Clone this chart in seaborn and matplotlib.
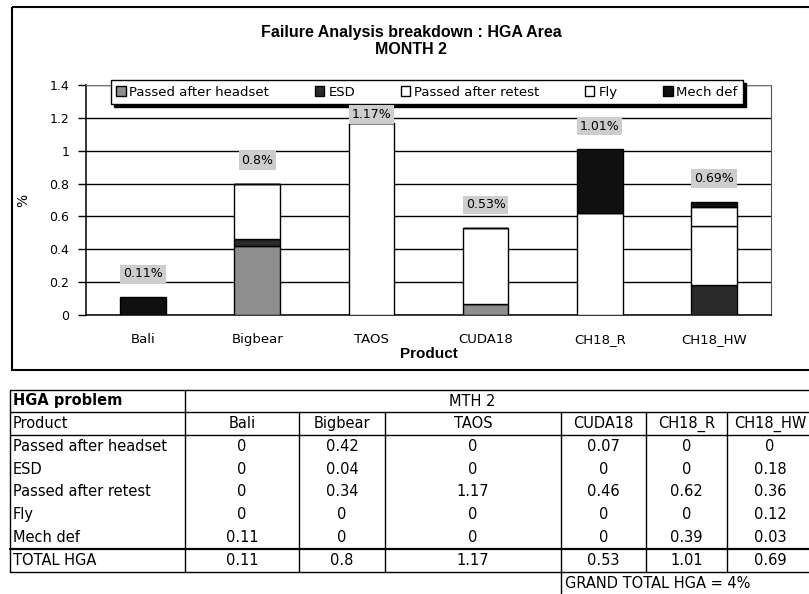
import matplotlib
matplotlib.use("Agg")
import matplotlib.pyplot as plt
import seaborn as sns
import numpy as np
from matplotlib.patches import Rectangle

# HGA failure breakdown, month 2 (values in %)
products = ["Bali", "Bigbear", "TAOS", "CUDA18", "CH18_R", "CH18_HW"]
passed_after_headset = [0, 0.42, 0, 0.07, 0, 0]
esd = [0, 0.04, 0, 0, 0, 0.18]
passed_after_retest = [0, 0.34, 1.17, 0.46, 0.62, 0.36]
fly = [0, 0, 0, 0, 0, 0.12]
mech_def = [0.11, 0, 0, 0, 0.39, 0.03]
series_names = ["Passed after headset", "ESD", "Passed after retest", "Fly", "Mech def"]
y_ticks = [0, 0.2, 0.4, 0.6, 0.8, 1, 1.2, 1.4]

title_lines = ["Failure Analysis breakdown : HGA Area", "MONTH 2"]
table_title = "HGA problem"
table_month = "MTH 2"

sns.set_theme(style="white")
plt.rcParams["font.family"] = ["DejaVu Sans"]
for key in ["text.color", "axes.labelcolor", "xtick.color", "ytick.color"]:
    plt.rcParams[key] = "black"
narrow = ["Liberation Sans Narrow", "Liberation Sans", "DejaVu Sans"]

W, H = 809, 594
fig = plt.figure(figsize=(W / 100, H / 100), dpi=100)
fig.patch.set_facecolor("white")

# full-figure pixel canvas for the frame and the table
canvas = fig.add_axes([0, 0, 1, 1], zorder=0)
canvas.set_xlim(0, W)
canvas.set_ylim(H, 0)
canvas.axis("off")

# chart frame
canvas.add_patch(Rectangle((12, 7), 840, 363, fill=False, lw=1.5, ec="black"))

# chart plot area
L, R, TOP, BOT = 86, 771, 85, 315
ax = fig.add_axes([L / W, 1 - BOT / H, (R - L) / W, (BOT - TOP) / H], zorder=2)
ax.set_facecolor("white")

series = [passed_after_headset, esd, passed_after_retest, fly, mech_def]
colors = ["#8e8e8e", "#2a2a2a", "#ffffff", "#ffffff", "#101010"]

bottom = np.zeros(len(products))
for name, vals, col in zip(series_names, series, colors):
    sns.barplot(x=products, y=vals, order=products, bottom=bottom, color=col,
                saturation=1, width=0.4, errorbar=None, edgecolor="black",
                linewidth=1.0, label=name, ax=ax, zorder=3)
    bottom = bottom + np.array(vals)
totals = np.round(bottom, 2)

ax.set_xlim(-0.5, len(products) - 0.5)
ax.set_ylim(0, 1.4)
ax.set_yticks(y_ticks)
ax.set_yticklabels([f"{t:g}" for t in y_ticks], fontsize=9)
ax.set_xticks(range(len(products)))
ax.set_xticklabels(products, fontsize=9.5)
ax.set_xticks(np.arange(-0.5, len(products), 1.0), minor=True)
ax.tick_params(axis="x", which="major", length=0, pad=13)
ax.tick_params(axis="x", which="minor", length=5, width=1, color="black", direction="out")
ax.tick_params(axis="y", which="major", length=6, width=1, color="black", direction="out", pad=6, left=True)

ax.yaxis.grid(True, color="black", lw=1.0)
ax.set_axisbelow(True)
for side in ["left", "bottom"]:
    ax.spines[side].set_color("black")
    ax.spines[side].set_linewidth(1.1)
ax.spines["right"].set_color("#555555")
ax.spines["right"].set_linewidth(0.8)
ax.spines["top"].set_color("#777777")
ax.spines["top"].set_linewidth(0.8)

ax.set_xlabel("Product", fontsize=11, fontweight="bold", family=narrow, labelpad=1)
ax.set_ylabel("%", fontsize=10, labelpad=14)

# total labels above each stack, kept just under the legend
for i, t in enumerate(totals):
    ypos = min(t + 0.14, 1.22)
    ax.text(i, ypos, f"{t:g}%", ha="center", va="center", fontsize=9, zorder=7,
            bbox=dict(boxstyle="square,pad=0.22", fc="#cdcdcd", ec="none"))

leg = ax.legend(loc="lower left", bbox_to_anchor=(111 / W, 1 - 104 / H, 632 / W, 24 / H),
                bbox_transform=fig.transFigure, mode="expand", ncol=5, fontsize=9.5,
                frameon=True, fancybox=False, edgecolor="black", framealpha=1,
                shadow={"color": "black", "alpha": 1, "ox": 2, "oy": -2},
                handlelength=0.7, handleheight=0.7, handletextpad=0.3,
                borderpad=0.4, borderaxespad=0)
leg.get_frame().set_linewidth(1.0)
leg.set_zorder(6)

fig.text(411 / W, 1 - 33 / H, title_lines[0], ha="center", va="center",
         fontsize=11.5, fontweight="bold", family=narrow)
fig.text(411 / W, 1 - 50 / H, title_lines[1], ha="center", va="center",
         fontsize=11.5, fontweight="bold", family=narrow)

# data table below the chart
col_edges = [10, 185, 299, 385, 561, 646, 727, 813]
row_top, row_h1, row_h2 = 390, 412, 435
data_bottom, total_bottom, grand_bottom = 549, 572, 594
n_rows = len(series_names)
row_h = (data_bottom - row_h2) / n_rows
lk = dict(color="black", lw=1.0)

for y in [row_top, row_h1, row_h2, total_bottom]:
    canvas.plot([col_edges[0], col_edges[-1]], [y, y], **lk)
canvas.plot([col_edges[0], col_edges[-1]], [data_bottom, data_bottom], color="black", lw=1.6)
for x in col_edges[:2]:
    canvas.plot([x, x], [row_top, total_bottom], **lk)
for x in col_edges[2:-1]:
    canvas.plot([x, x], [row_h1, total_bottom], **lk)
canvas.plot([col_edges[4], col_edges[4]], [total_bottom, grand_bottom], **lk)

fs = 10.5
canvas.text(13, (row_top + row_h1) / 2, table_title, ha="left", va="center",
            fontsize=fs, fontweight="bold")
canvas.text(472, (row_top + row_h1) / 2, table_month, ha="center", va="center", fontsize=fs)
canvas.text(13, (row_h1 + row_h2) / 2, "Product", ha="left", va="center", fontsize=fs)
centers = [(col_edges[j + 1] + col_edges[j + 2]) / 2 for j in range(len(products))]
for cx, p in zip(centers, products):
    canvas.text(cx, (row_h1 + row_h2) / 2, p, ha="center", va="center", fontsize=fs)
for r, (name, vals) in enumerate(zip(series_names, series)):
    cy = row_h2 + row_h * (r + 0.5)
    canvas.text(13, cy, name, ha="left", va="center", fontsize=fs)
    for cx, v in zip(centers, vals):
        canvas.text(cx, cy, f"{v:g}", ha="center", va="center", fontsize=fs)
cy = (data_bottom + total_bottom) / 2
canvas.text(13, cy, "TOTAL HGA", ha="left", va="center", fontsize=fs)
for cx, t in zip(centers, totals):
    canvas.text(cx, cy, f"{t:g}", ha="center", va="center", fontsize=fs)
canvas.text(col_edges[4] + 4, (total_bottom + grand_bottom) / 2,
            f"GRAND TOTAL HGA = {totals.sum():.0f}%", ha="left", va="center", fontsize=fs)

fig.savefig("out.png", dpi=100, facecolor="white")
